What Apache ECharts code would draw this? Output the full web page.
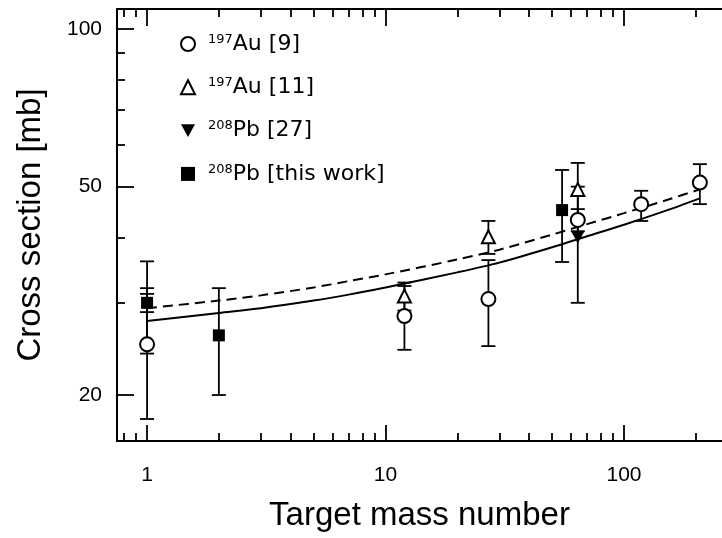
<!DOCTYPE html>
<html>
<head>
<meta charset="utf-8">
<script src="https://cdn.jsdelivr.net/npm/echarts@6/dist/echarts.min.js"></script>
<style>
html, body { margin: 0; padding: 0; background: #fff; }
#chart { width: 722px; height: 538px; }
</style>
</head>
<body>
<div id="chart"></div>
<script>
// values: target mass number A, cross section [mb], error bar ends
var au9A = [1, 12, 27, 64, 118, 208];
var au9Val = [25.0, 28.3, 30.5, 43.2, 46.3, 50.9];
var au9Lo = [18.0, 24.4, 24.8, 41.1, 43.0, 46.3];
var au9Hi = [32.0, 32.3, 36.2, 45.3, 49.1, 55.2];

var au11A = [12, 27, 64];
var au11Val = [30.9, 40.1, 49.4];
var au11Lo = [29.0, 37.2, 43.4];
var au11Hi = [32.8, 43.0, 55.5];

var pb27A = [64];
var pb27Val = [40.0];
var pb27Lo = [30.0];
var pb27Hi = [50.0];

var pbA = [1, 2, 55];
var pbVal = [30.0, 26.0, 45.1];
var pbLo = [24.0, 20.0, 35.9];
var pbHi = [36.0, 32.0, 53.8];
// small inner bar on the A=1 point
var pbStatA = [1];
var pbStatLo = [28.8];
var pbStatHi = [31.2];

// the two calculated curves
var curveA = [1, 2, 3, 5, 7, 10, 20, 30, 50, 70, 100, 150, 208];
var solidVal = [27.7, 28.7, 29.3, 30.3, 31.1, 32.1, 34.3, 35.8, 38.3, 40.2, 42.3, 45.0, 47.5];
var dashVal = [29.3, 30.3, 31.0, 32.1, 33.0, 34.0, 36.3, 37.9, 40.5, 42.4, 44.5, 47.1, 49.4];

// ticks
var xMajor = [1, 10, 100];
var xMinor = [0.8, 0.9, 2, 3, 4, 5, 6, 7, 8, 9, 20, 30, 40, 50, 60, 70, 80, 90, 200];
var yMajor = [20, 50, 100];
var yMinor = [30, 40, 60, 70, 80, 90];

var legendNames = ['197Au [9]', '197Au [11]', '208Pb [27]', '208Pb [this work]'];
var legendText = {
  '197Au [9]': '{sup|197}{main|Au [9]}',
  '197Au [11]': '{sup|197}{main|Au [11]}',
  '208Pb [27]': '{sup|208}{main|Pb [27]}',
  '208Pb [this work]': '{sup|208}{main|Pb [this work]}'
};

var XMIN = 0.748, XMAX = 257.6;
var YMIN = 16.34, YMAX = 109.2;
var downTri = 'path://M0,0 L10,0 L5,9 Z';

function pairs(xs, ys) {
  return xs.map(function (x, i) { return [x, ys[i]]; });
}

function errorBars(xs, lo, hi, cap) {
  return {
    type: 'custom',
    silent: true,
    z: 2,
    data: xs.map(function (x, i) { return [x, lo[i], hi[i]]; }),
    encode: { x: 0, y: [1, 2] },
    renderItem: function (params, api) {
      var p1 = api.coord([api.value(0), api.value(1)]);
      var p2 = api.coord([api.value(0), api.value(2)]);
      var st = { stroke: '#000', lineWidth: 1.8 };
      return {
        type: 'group',
        children: [
          { type: 'line', shape: { x1: p1[0], y1: p1[1], x2: p2[0], y2: p2[1] }, style: st },
          { type: 'line', shape: { x1: p1[0] - cap, y1: p1[1], x2: p1[0] + cap, y2: p1[1] }, style: st },
          { type: 'line', shape: { x1: p2[0] - cap, y1: p2[1], x2: p2[0] + cap, y2: p2[1] }, style: st }
        ]
      };
    }
  };
}

function xAxisOf(pos, values, len, isMain) {
  return {
    type: 'log', logBase: 10, min: XMIN, max: XMAX, position: pos,
    axisLine: { show: isMain, onZero: false, lineStyle: { color: '#000', width: 2 } },
    axisTick: { show: true, inside: true, length: len, customValues: values,
      lineStyle: { color: '#000', width: 1.8 } },
    axisLabel: { show: isMain && pos === 'bottom', customValues: values, margin: 24,
      color: '#000', fontSize: 21, fontFamily: 'Liberation Sans' },
    splitLine: { show: false },
    minorTick: { show: false }
  };
}

function yAxisOf(values, len, isMain) {
  return {
    type: 'log', logBase: 10, min: YMIN, max: YMAX, position: 'left',
    axisLine: { show: isMain, onZero: false, lineStyle: { color: '#000', width: 2 } },
    axisTick: { show: true, inside: true, length: len, customValues: values,
      lineStyle: { color: '#000', width: 1.8 } },
    axisLabel: { show: isMain, customValues: values, margin: 15,
      color: '#000', fontSize: 21, fontFamily: 'Liberation Sans' },
    splitLine: { show: false },
    minorTick: { show: false }
  };
}

var chart = echarts.init(document.getElementById('chart'));

var xMain = xAxisOf('bottom', xMajor, 16, true);
xMain.name = 'Target mass number';
xMain.nameLocation = 'middle';
xMain.nameGap = 58;
xMain.nameTextStyle = { color: '#000', fontSize: 33, fontFamily: 'Liberation Sans' };

var yMain = yAxisOf(yMajor, 17, true);
yMain.name = 'Cross section [mb]';
yMain.nameLocation = 'middle';
yMain.nameGap = 70;
yMain.nameTextStyle = { color: '#000', fontSize: 33, fontFamily: 'Liberation Sans' };

chart.setOption({
  animation: false,
  backgroundColor: '#fff',
  grid: { left: 117, right: 0, top: 9, bottom: 97 },
  legend: {
    orient: 'vertical',
    left: 180,
    top: 26,
    padding: 0,
    itemWidth: 14,
    itemHeight: 14,
    itemGap: 14.3,
    selectedMode: false,
    data: [
      { name: legendNames[0], icon: 'circle', itemStyle: { color: '#fff', borderColor: '#000', borderWidth: 2 } },
      { name: legendNames[1], icon: 'triangle', itemStyle: { color: '#fff', borderColor: '#000', borderWidth: 2 } },
      { name: legendNames[2], icon: downTri, itemStyle: { color: '#000', borderWidth: 0 } },
      { name: legendNames[3], icon: 'rect', itemStyle: { color: '#000', borderWidth: 0 } }
    ],
    formatter: function (name) { return legendText[name]; },
    textStyle: {
      color: '#000',
      rich: {
        sup: { fontSize: 13, fontFamily: 'DejaVu Sans', verticalAlign: 'top', lineHeight: 14, padding: [0, 0, 0, 8] },
        main: { fontSize: 22, fontFamily: 'DejaVu Sans', verticalAlign: 'bottom', lineHeight: 22, padding: [7, 0, 0, 0] }
      }
    }
  },
  xAxis: [
    xMain,
    xAxisOf('bottom', xMinor, 8, false),
    xAxisOf('top', xMajor, 17, true),
    xAxisOf('top', xMinor, 8, false)
  ],
  yAxis: [
    yMain,
    yAxisOf(yMinor, 8, false)
  ],
  series: [
    {
      type: 'line', name: 'calc', data: pairs(curveA, solidVal), smooth: 0.3,
      showSymbol: false, silent: true, z: 1,
      lineStyle: { color: '#000', width: 2 }
    },
    {
      type: 'line', name: 'calc2', data: pairs(curveA, dashVal), smooth: 0.3,
      showSymbol: false, silent: true, z: 1,
      lineStyle: { color: '#000', width: 2, type: [10, 6] }
    },
    errorBars(au9A, au9Lo, au9Hi, 7),
    errorBars(au11A, au11Lo, au11Hi, 7),
    errorBars(pb27A, pb27Lo, pb27Hi, 7),
    errorBars(pbA, pbLo, pbHi, 7),
    errorBars(pbStatA, pbStatLo, pbStatHi, 7),
    {
      type: 'scatter', name: legendNames[0], data: pairs(au9A, au9Val), z: 5,
      symbol: 'circle', symbolSize: 14,
      itemStyle: { color: '#fff', borderColor: '#000', borderWidth: 2, opacity: 1 }
    },
    {
      type: 'scatter', name: legendNames[1], data: pairs(au11A, au11Val), z: 5,
      symbol: 'triangle', symbolSize: 13,
      itemStyle: { color: '#fff', borderColor: '#000', borderWidth: 2, opacity: 1 }
    },
    {
      type: 'scatter', name: legendNames[2], data: pairs(pb27A, pb27Val), z: 5,
      symbol: downTri, symbolSize: [13, 12],
      itemStyle: { color: '#000', opacity: 1 }
    },
    {
      type: 'scatter', name: legendNames[3], data: pairs(pbA, pbVal), z: 5,
      symbol: 'rect', symbolSize: 12,
      itemStyle: { color: '#000', opacity: 1 }
    }
  ]
});
</script>
</body>
</html>
